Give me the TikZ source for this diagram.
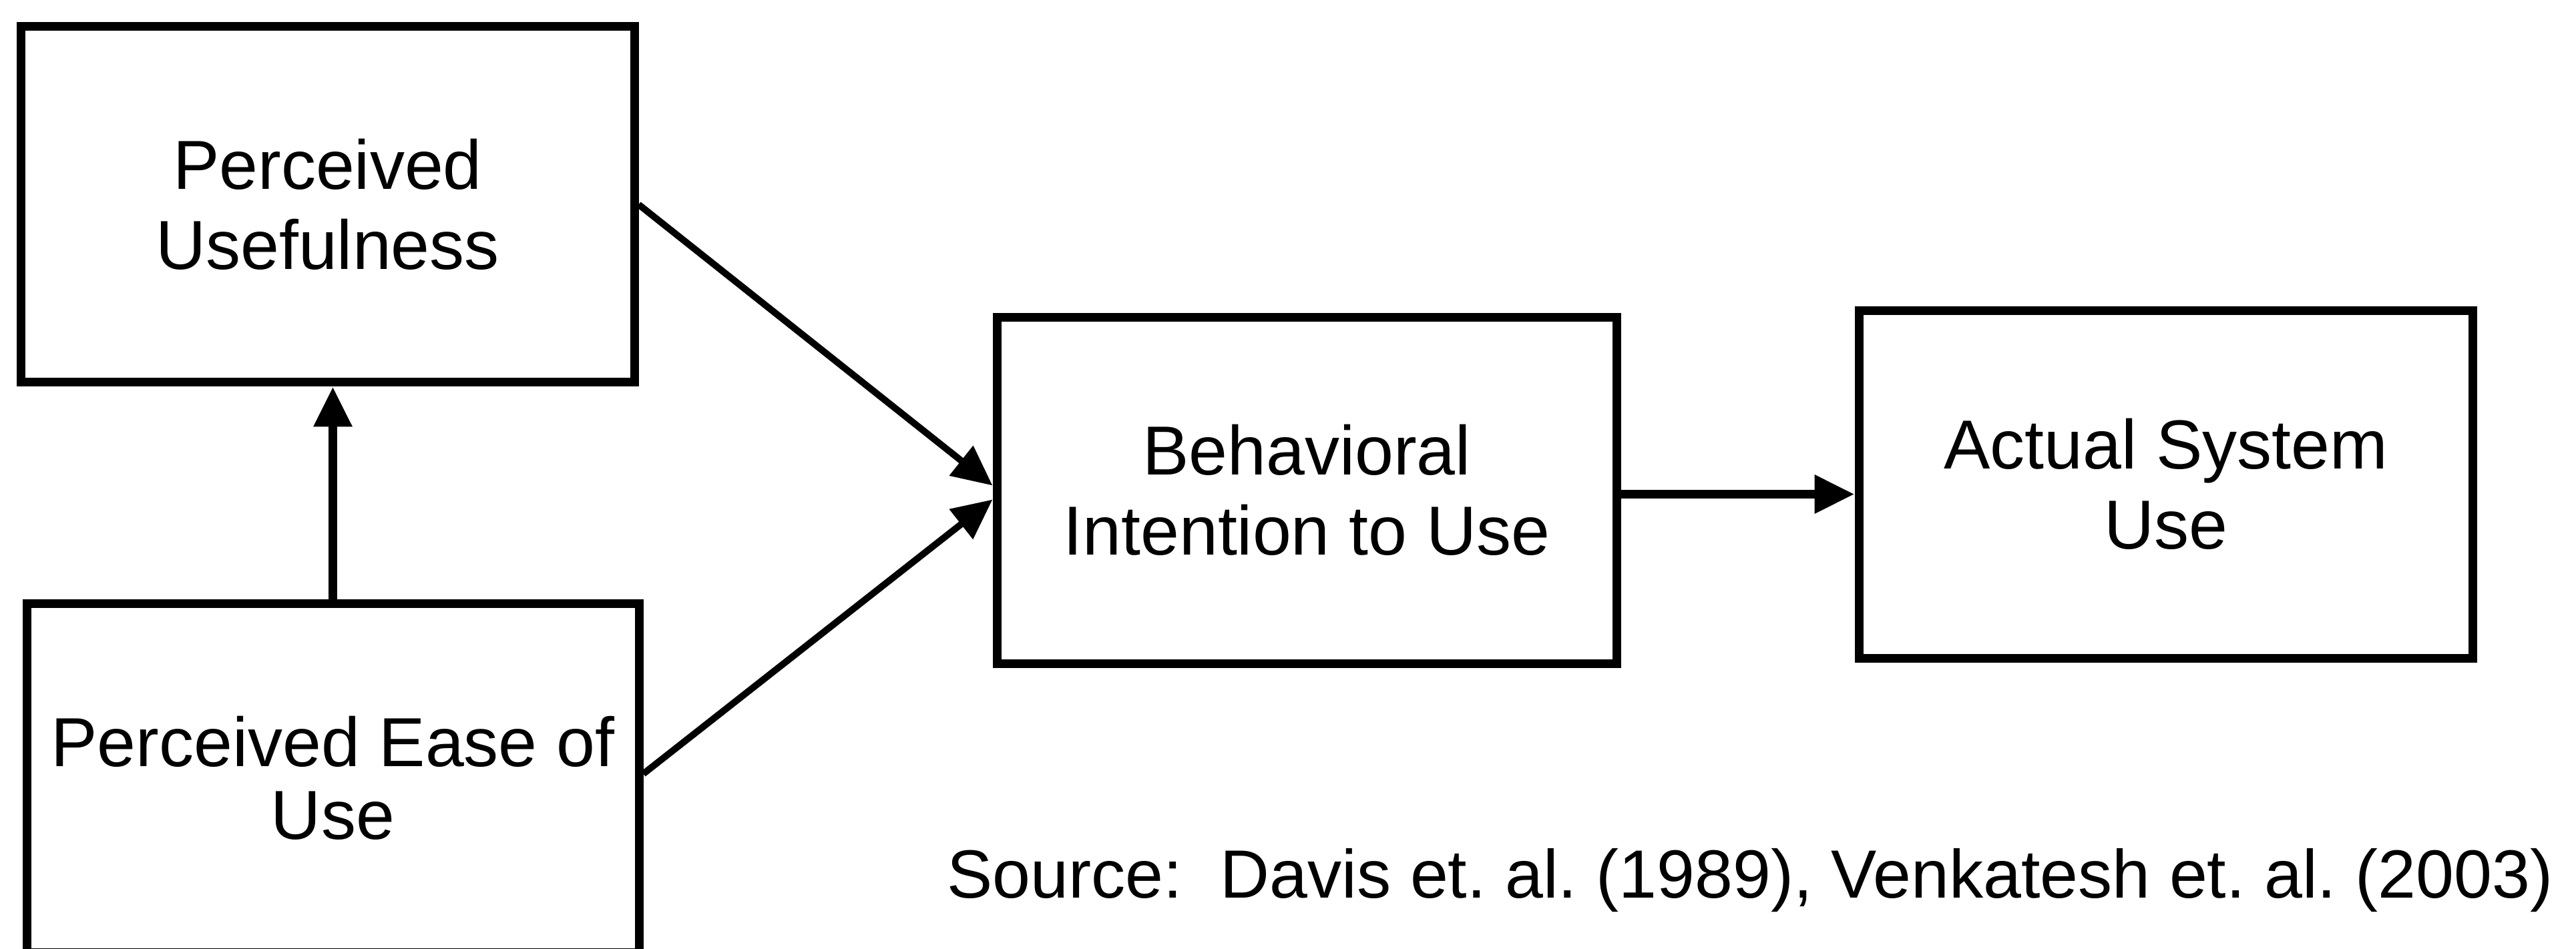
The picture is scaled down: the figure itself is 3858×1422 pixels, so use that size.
\documentclass[tikz,border=0pt]{standalone}
\usepackage{fontspec}
\setmainfont{Liberation Sans}
\usetikzlibrary{arrows.meta,calc}
\frenchspacing
\begin{document}
\begin{tikzpicture}[x=0.1mm,y=-0.1mm,
  box/.style={draw=black,line width=1.3mm,rectangle,inner sep=0pt,align=center,
    font=\fontsize{29.6}{34}\selectfont},
  link/.style={line width=1.3mm,-{Triangle[length=6mm,width=5.5mm]}},
  slant/.style={link,line width=1mm},
  note/.style={inner sep=0pt,font=\fontsize{29.1}{34}\selectfont}]
\useasboundingbox (0,0) rectangle (3858,1422);
\fill[white] (0,0) rectangle (3858,1422);
\clip (0,0) rectangle (3858,1422);

% the four constructs
\node[box,minimum width=91.9mm,minimum height=53.3mm] (pu) at (490.5,306.5) {Perceived\\Usefulness};
\node[box,minimum width=91.7mm,minimum height=52.3mm,
  font=\fontsize{29.6}{31}\selectfont] (peu) at (498.5,1165.5) {Perceived Ease of\\Use};
\node[box,minimum width=92.8mm,minimum height=51.9mm] (bi) at (1957,734.5) {Behavioral\\Intention to Use};
\node[box,minimum width=91.9mm,minimum height=52.1mm] (asu) at (3243.5,725.5) {Actual System\\Use};

% connector end points
\coordinate (puout) at (pu.east);
\coordinate (peuout) at ($(peu.east)+(0,-6)$);
\coordinate (biinA) at ($(bi.west)+(0,-7)$);
\coordinate (biinB) at ($(bi.west)+(0,14)$);
\coordinate (biout) at ($(bi.east)+(0,6)$);

% connectors
\draw[link] (peu.north) -- (peu.north |- pu.south);
\draw[slant] (puout) -- (biinA);
\draw[slant] (peuout) -- (biinB);
\draw[link] (biout) -- (biout -| asu.west);

% reference line
\node[note,anchor=base west] (src) at (1418,1345)
  {Source:\ \ Davis et. al. (1989), Venkatesh et. al. (2003)};
\end{tikzpicture}
\end{document}
